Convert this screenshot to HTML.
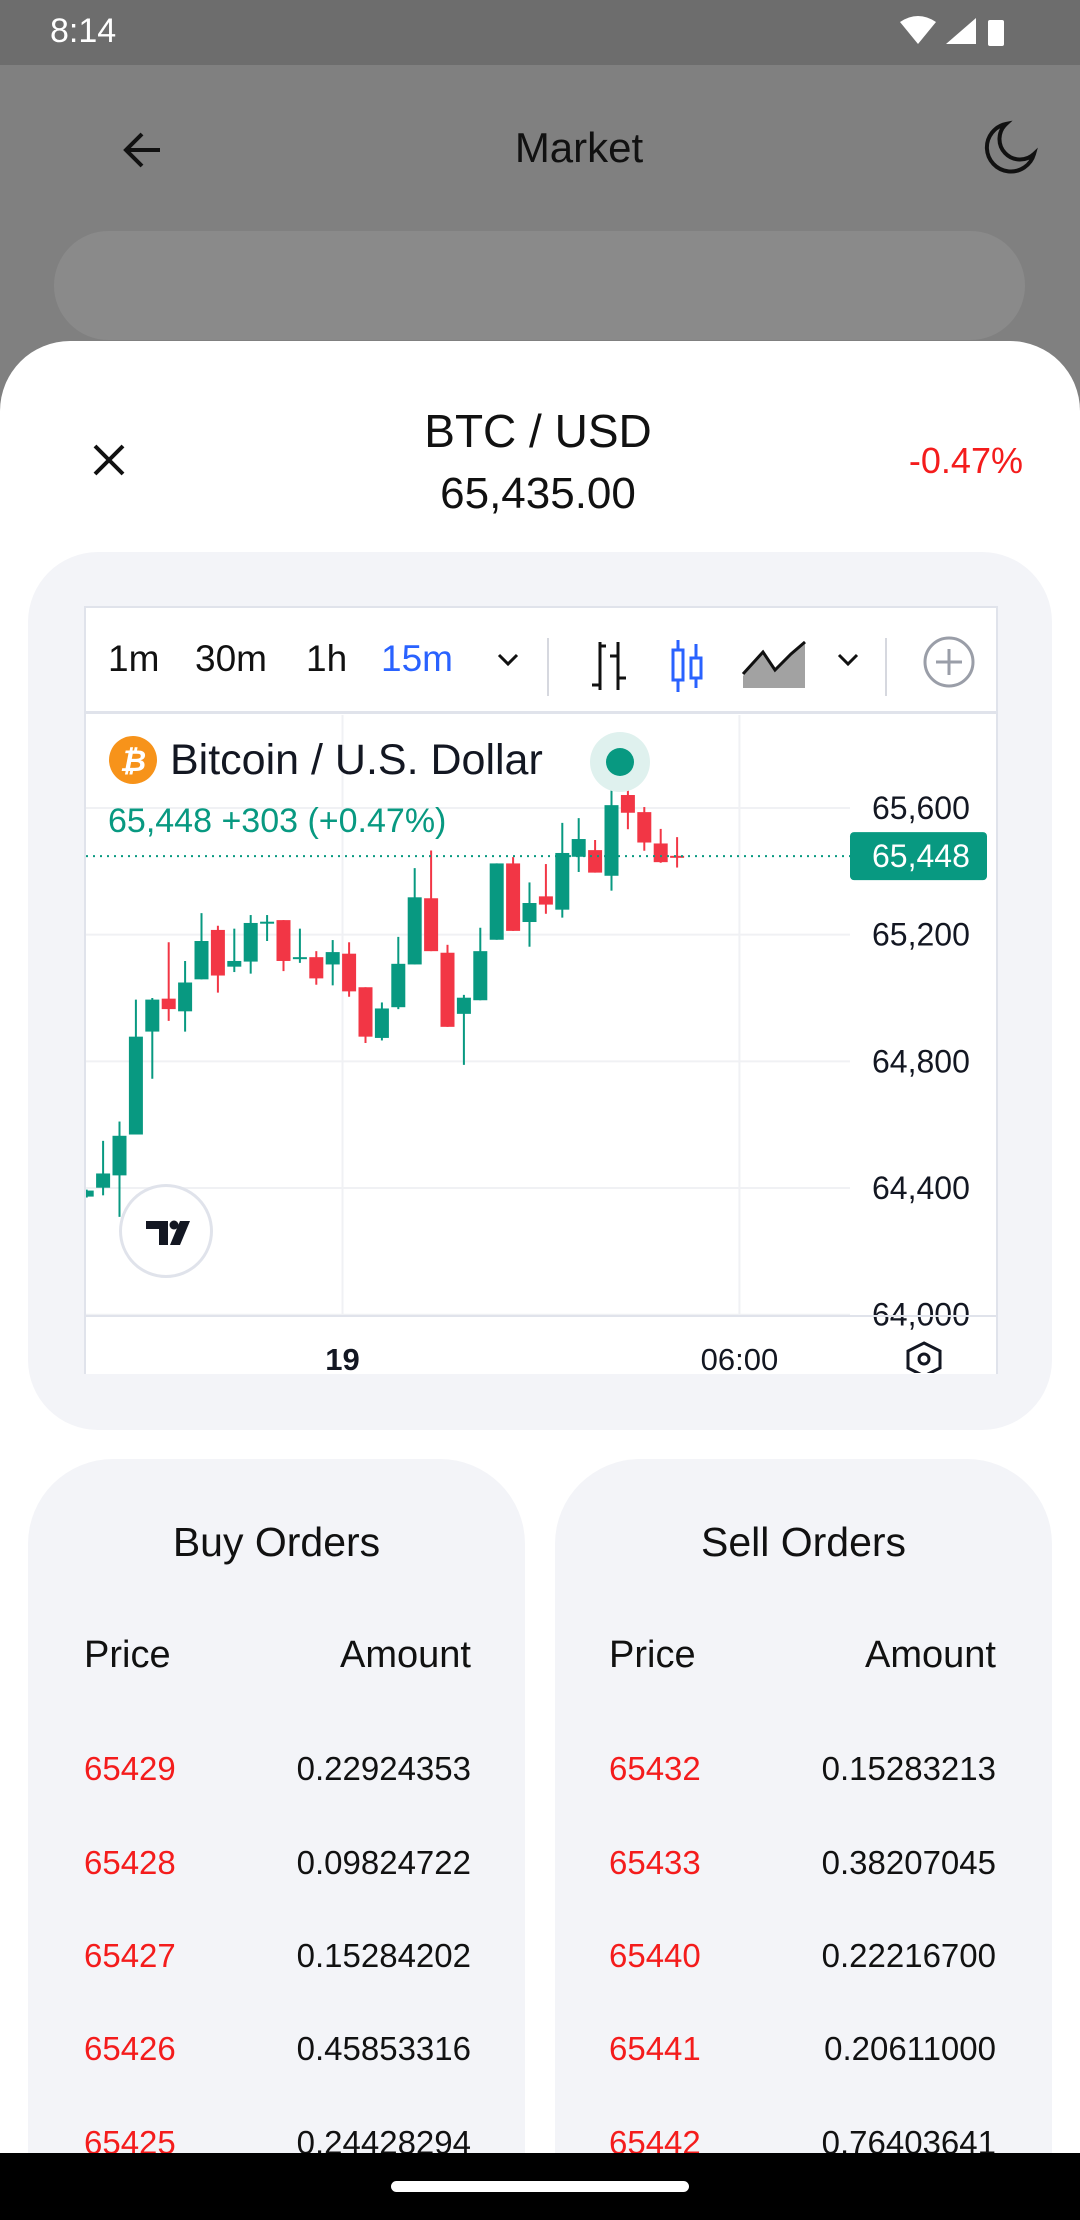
<!DOCTYPE html>
<html><head><meta charset="utf-8"><style>
*{margin:0;padding:0;box-sizing:border-box}
html,body{width:1080px;height:2220px;overflow:hidden}
body{position:relative;background:#808080;font-family:"Liberation Sans","DejaVu Sans",sans-serif;color:#111}
.abs{position:absolute}
.row{position:absolute;font-size:33px}
</style></head><body>
<div class="abs" style="left:0;top:0;width:1080px;height:65px;background:#6d6d6d"></div>
<div class="abs" style="left:50px;top:12px;font-size:34px;color:#fff">8:14</div>
<div class="abs" style="right:72px;top:16px;width:110px;height:30px">
 <svg width="110" height="32"><path d="M2 6 Q20 -6 38 6 L20 28Z" fill="#fff"/><path d="M48 28 L78 2 L78 28Z" fill="#fff"/><rect x="90" y="4" width="16" height="26" rx="2" fill="#fff"/></svg></div>
<div class="abs" style="left:120px;top:128px;width:44px;height:44px">
 <svg width="44" height="44"><path d="M40 22H6M22 6L6 22l16 16" stroke="#111" stroke-width="4" fill="none"/></svg></div>
<div class="abs" style="left:0;width:1158px;text-align:center;top:124px;font-size:42px;color:#111">Market</div>
<div class="abs" style="left:982px;top:120px;width:56px;height:56px">
 <svg width="56" height="56"><path d="M24 4A24 24 0 1 0 52 34A18 18 0 0 1 24 4Z" stroke="#111" stroke-width="4" fill="none"/></svg></div>
<div class="abs" style="left:54px;top:231px;width:971px;height:109px;border-radius:55px;background:#8a8a8a"></div>

<div class="abs" style="left:0;top:341px;width:1080px;height:1812px;background:#fff;border-radius:70px 70px 0 0"></div>
<div class="abs" style="left:92px;top:443px;width:34px;height:34px">
 <svg width="34" height="34"><path d="M3 3L31 31M31 3L3 31" stroke="#111" stroke-width="4"/></svg></div>
<div class="abs" style="left:0;width:1076px;text-align:center;top:404px;font-size:46px">BTC / USD</div>
<div class="abs" style="left:0;width:1076px;text-align:center;top:469px;font-size:44px">65,435.00</div>
<div class="abs" style="right:57px;top:440px;font-size:36px;color:#f41c1c">-0.47%</div>

<div class="abs" style="left:28px;top:552px;width:1024px;height:878px;background:#f3f4f8;border-radius:70px"></div>
<div class="abs" style="left:84px;top:606px;width:914px;height:768px;background:#fff;border:2px solid #e0e3eb;border-bottom:none"></div>
<div class="abs" style="left:86px;top:608px;width:910px;height:106px;border-bottom:3px solid #e0e3eb;font-size:37px">
 <span class="abs" style="left:22px;top:30px">1m</span>
 <span class="abs" style="left:109px;top:30px">30m</span>
 <span class="abs" style="left:220px;top:30px">1h</span>
 <span class="abs" style="left:295px;top:30px;color:#2962ff">15m</span>
 <svg class="abs" style="left:410px;top:44px" width="24" height="16"><path d="M3 3l9 9 9-9" stroke="#111" stroke-width="3" fill="none"/></svg>
 <div class="abs" style="left:461px;top:30px;width:2px;height:58px;background:#d6d8df"></div>
 <svg class="abs" style="left:500px;top:32px" width="46" height="52"><path d="M14 2v48M14 45H6M14 6h6M32 2v48M32 16h-8M32 38h8" stroke="#111" stroke-width="3" fill="none"/></svg>
 <svg class="abs" style="left:582px;top:30px" width="46" height="56"><path d="M10 2v52M28 6v44" stroke="#2962ff" stroke-width="3"/><rect x="5" y="12" width="10" height="30" fill="#fff" stroke="#2962ff" stroke-width="3"/><rect x="23" y="20" width="10" height="20" fill="#fff" stroke="#2962ff" stroke-width="3"/></svg>
 <svg class="abs" style="left:653px;top:32px" width="70" height="52"><path d="M4 48V36L24 12 36 30 52 14 66 4V48Z" fill="#555" opacity=".55"/><path d="M4 34L24 12 36 30 52 14 66 2" stroke="#111" stroke-width="3" fill="none"/></svg>
 <svg class="abs" style="left:750px;top:44px" width="24" height="16"><path d="M3 3l9 9 9-9" stroke="#111" stroke-width="3" fill="none"/></svg>
 <div class="abs" style="left:799px;top:30px;width:2px;height:58px;background:#d6d8df"></div>
 <svg class="abs" style="left:836px;top:27px" width="54" height="54"><circle cx="27" cy="27" r="24" fill="none" stroke="#9a9ea8" stroke-width="3"/><path d="M27 14v26M14 27h26" stroke="#9a9ea8" stroke-width="3"/></svg>
</div>

<svg class="abs" id="chart" style="left:85px;top:715px" width="912" height="658" viewBox="85 715 912 658" xmlns="http://www.w3.org/2000/svg">
 <defs><clipPath id="plotclip"><rect x="86" y="715" width="764" height="601"/></clipPath></defs>
 <g id="grid"></g>
 <g id="candles" clip-path="url(#plotclip)"></g>
 <g id="overlay"></g>
</svg>

<div class="abs" style="left:119px;top:1184px;width:94px;height:94px;border-radius:50%;border:3px solid #e0e3eb;background:#fff">
 <svg width="88" height="88"><path d="M24 34h22v24h-9V42H24Z" fill="#131722"/><circle cx="52" cy="38" r="4.5" fill="#131722"/><path d="M58 34h10L58 58h-10Z" fill="#131722"/></svg></div>

<div class="abs" style="left:28px;top:1459px;width:497px;height:694px;background:#f3f4f8;border-radius:85px 85px 0 0"></div>
<div class="abs" style="left:555px;top:1459px;width:497px;height:694px;background:#f3f4f8;border-radius:85px 85px 0 0"></div>
<div class="abs" style="left:28px;width:497px;text-align:center;top:1519px;font-size:41px">Buy Orders</div>
<div class="abs" style="left:555px;width:497px;text-align:center;top:1519px;font-size:41px">Sell Orders</div>
<div class="abs" style="left:84px;top:1634px;font-size:38px">Price</div>
<div class="abs" style="right:609px;top:1634px;font-size:38px">Amount</div>
<div class="abs" style="left:609px;top:1634px;font-size:38px">Price</div>
<div class="abs" style="right:84px;top:1634px;font-size:38px">Amount</div>
<div id="rows"></div>

<div class="abs" style="left:0;top:2153px;width:1080px;height:67px;background:#000"></div>
<div class="abs" style="left:391px;top:2181px;width:298px;height:11px;border-radius:6px;background:#fff"></div>

<script>
const opens  =[64373,64401,64440,64569,64894,64998,64958,65059,65215,65099,65115,65235,65246,65127,65129,65106,65140,65034,64874,64971,65106,65315,65143,64950,64993,65184,65425,65240,65321,65279,65446,65467,65386,65641,65587,65488,65449];
const highs  =[64395,64549,64610,64995,65000,65176,65117,65268,65228,65219,65262,65262,65246,65219,65148,65183,65176,65034,64986,65193,65410,65466,65168,65010,65222,65425,65445,65365,65423,65553,65568,65499,65655,65701,65603,65534,65508];
const lows   =[64370,64377,64309,64569,64745,64928,64894,65059,65017,65082,65077,65180,65085,65111,65042,65040,65004,64858,64866,64965,65106,65148,64909,64789,64993,65184,65212,65162,65266,65254,65398,65396,65339,65533,65465,65427,65412];
const closes =[64392,64446,64565,64878,64995,64965,65049,65180,65071,65117,65237,65241,65117,65129,65062,65145,65021,64878,64967,65108,65318,65148,64909,65001,65148,65425,65212,65300,65295,65458,65502,65396,65609,65585,65491,65429,65448];
const priceTicks=[65600,65200,64800,64400,64000];
const priceTickLabels=["65,600","65,200","64,800","64,400","64,000"];
const timeLabels=["19","06:00"];
const timeLabelIndex=[15.6,39.8];
const lastPrice=65448;
const buyPrices=["65429","65428","65427","65426","65425"];
const buyAmounts=["0.22924353","0.09824722","0.15284202","0.45853316","0.24428294"];
const sellPrices=["65432","65433","65440","65441","65442"];
const sellAmounts=["0.15283213","0.38207045","0.22216700","0.20611000","0.76403641"];

const NS="http://www.w3.org/2000/svg";
const xOf=i=>86.7+i*16.4;
const yOf=p=>808+(65600-p)*0.3167;
function mk(tag,attrs,parent){const e=document.createElementNS(NS,tag);for(const k in attrs)e.setAttribute(k,attrs[k]);parent.appendChild(e);return e;}
const grid=document.getElementById('grid'),cg=document.getElementById('candles'),ov=document.getElementById('overlay');
priceTicks.forEach((p,k)=>{
 const l=mk('line',{x1:86,x2:850,y1:yOf(p),y2:yOf(p),stroke:'#f0f1f4','stroke-width':2},grid);
 
 
 const t=mk('text',{x:872,y:yOf(p)+11,'font-size':32,fill:'#131722','font-family':'Liberation Sans, sans-serif'},ov);
 t.textContent=priceTickLabels[k];
 
 
});
timeLabels.forEach((s,k)=>{
 const x=xOf(timeLabelIndex[k]);
 const l=mk('line',{x1:x,x2:x,y1:715,y2:1316,stroke:'#f0f1f4','stroke-width':2},grid);
 
 
 const t=mk('text',{x:x,y:1370,'font-size':31,fill:'#131722','text-anchor':'middle','font-weight':k==0?'bold':'normal','font-family':'Liberation Sans, sans-serif'},ov);
 t.textContent=s;
 
 
});
const ax=mk('line',{x1:86,x2:997,y1:1316,y2:1316,stroke:'#e0e3eb','stroke-width':2},ov);


opens.forEach((o,i)=>{
 const c=closes[i],up=c>=o,col=up?'#089981':'#f23645',x=xOf(i);
 const g=mk('g',{},cg);
 
 
 mk('line',{x1:x,x2:x,y1:yOf(highs[i]),y2:yOf(lows[i]),stroke:col,'stroke-width':2},g);
 const top=yOf(Math.max(o,c)),h=Math.max(2,Math.abs(yOf(o)-yOf(c)));
 mk('rect',{x:x-7,y:top,width:14,height:h,fill:col},g);
});
const ly=yOf(lastPrice);
const dl=mk('line',{x1:86,x2:850,y1:ly,y2:ly,stroke:'#089981','stroke-width':2,'stroke-dasharray':'2 5'},ov);


const tag=mk('rect',{x:850,y:ly-24,width:137,height:48,rx:4,fill:'#089981'},ov);


const tt=mk('text',{x:872,y:ly+11,'font-size':32,fill:'#fff','font-family':'Liberation Sans, sans-serif'},ov);
tt.textContent="65,448";


const mx=620,my=762;
const halo=mk('circle',{cx:mx,cy:my,r:30,fill:'#dff1ee'},ov);


const dot=mk('circle',{cx:mx,cy:my,r:14,fill:'#089981'},ov);


const bi=mk('circle',{cx:133,cy:760,r:24,fill:'#f7931a'},ov);


const bt=mk('text',{x:133,y:771,'font-size':30,'font-weight':'bold',fill:'#fff','text-anchor':'middle','font-style':'italic','font-family':'Liberation Sans, sans-serif'},ov);
bt.textContent="₿";


const st=mk('text',{x:170,y:774,'font-size':43,fill:'#131722','font-family':'Liberation Sans, sans-serif'},ov);
st.textContent="Bitcoin / U.S. Dollar";


const sv=mk('text',{x:108,y:832,'font-size':34,fill:'#089981','font-family':'Liberation Sans, sans-serif'},ov);
sv.textContent="65,448  +303 (+0.47%)";


const hx=mk('path',{d:'M924 1343 l16 8 v17 l-16 8 l-16 -8 v-17z',fill:'none',stroke:'#131722','stroke-width':3},ov);


mk('circle',{cx:924,cy:1359,r:5,fill:'none',stroke:'#131722','stroke-width':3},ov);

const rows=document.getElementById('rows');
const rowY=[1752,1846,1939,2032,2126];
function cell(txt,css,name,red){const d=document.createElement('div');d.className='row';d.style.cssText=css+(red?';color:#f41c1c':';color:#111');d.textContent=txt;
 
 
 rows.appendChild(d);}
rowY.forEach((y,i)=>{
 cell(buyPrices[i],'left:84px;top:'+(y-2)+'px','buy-price',true);
 cell(buyAmounts[i],'right:609px;top:'+(y-2)+'px','buy-amount',false);
 cell(sellPrices[i],'left:609px;top:'+(y-2)+'px','sell-price',true);
 cell(sellAmounts[i],'right:84px;top:'+(y-2)+'px','sell-amount',false);
});
</script>
</body></html>
